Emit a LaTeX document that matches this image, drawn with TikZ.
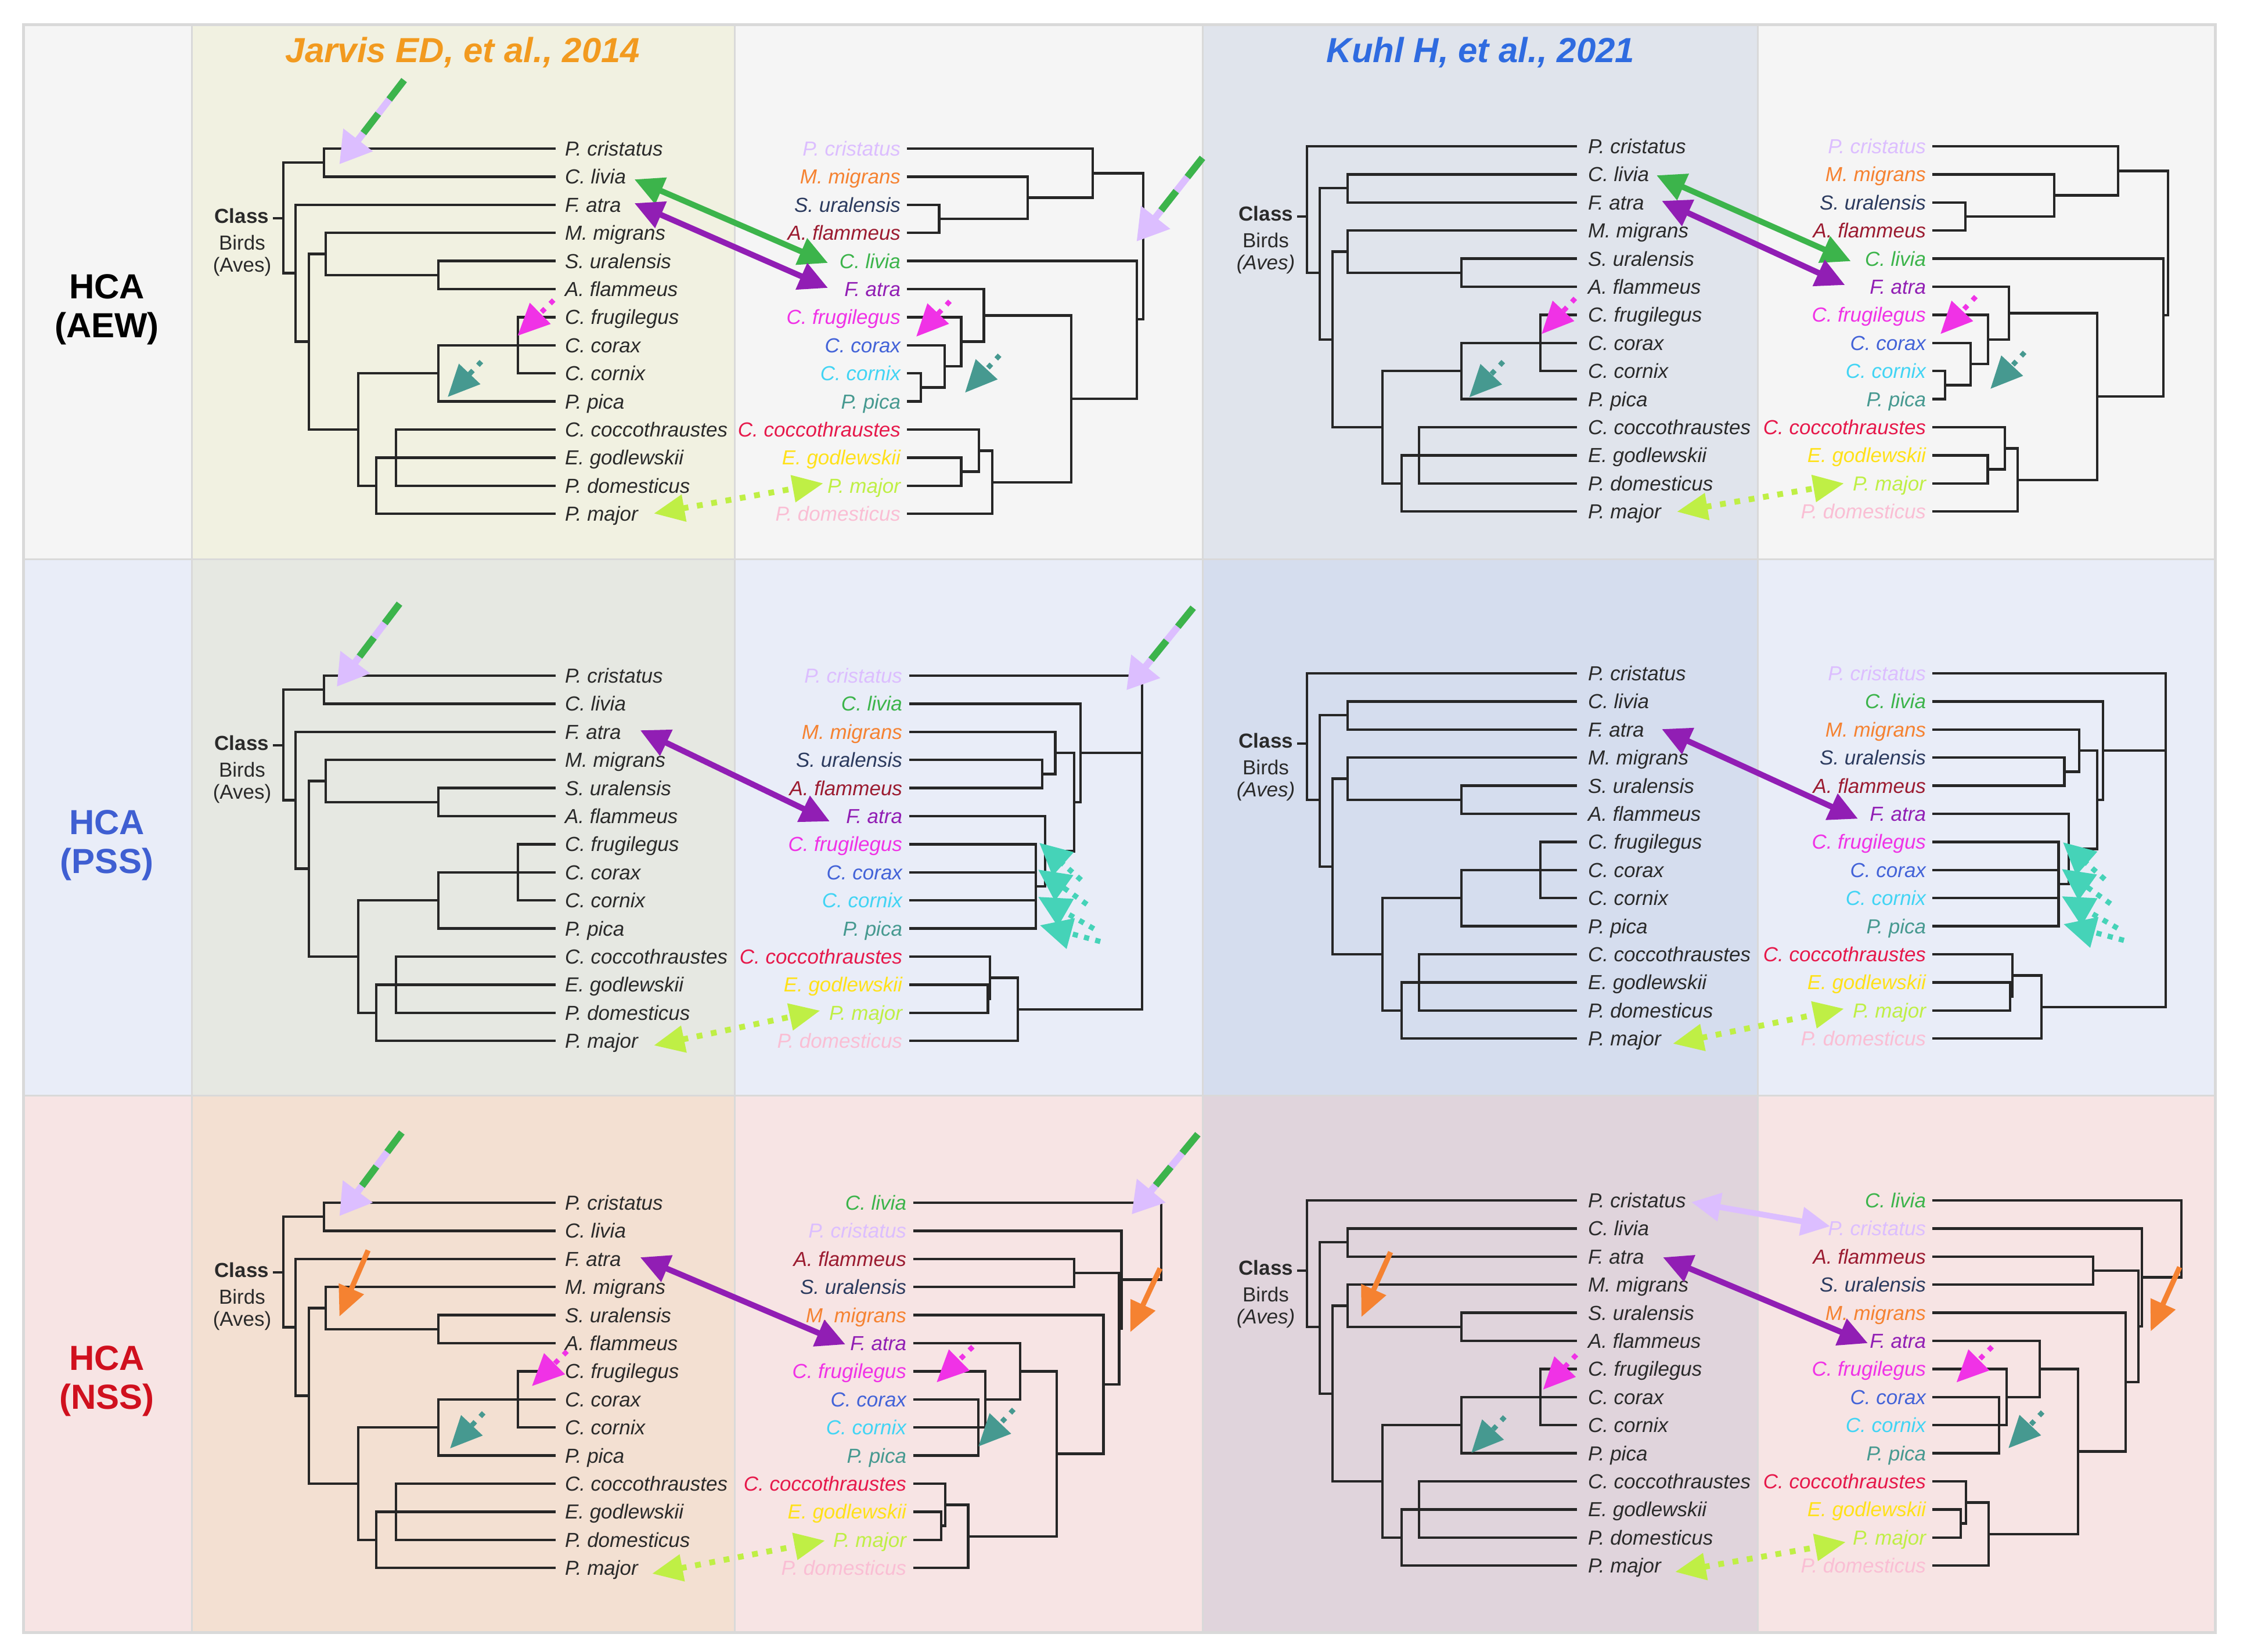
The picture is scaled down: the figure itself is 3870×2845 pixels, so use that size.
\documentclass[tikz,border=0pt]{standalone}
\usepackage{fontspec}
\setmainfont{Liberation Sans}
\usetikzlibrary{arrows.meta}
\definecolor{cLav}{HTML}{DCBEFF}
\definecolor{cGreen}{HTML}{3CB44B}
\definecolor{cOrange}{HTML}{F58231}
\definecolor{cNavy}{HTML}{2B3A5E}
\definecolor{cMaroon}{HTML}{9B1B30}
\definecolor{cPurple}{HTML}{911EB4}
\definecolor{cMag}{HTML}{F032E6}
\definecolor{cBlue}{HTML}{4363D8}
\definecolor{cCyan}{HTML}{42D4F4}
\definecolor{cTeal}{HTML}{469990}
\definecolor{cRed}{HTML}{E6194B}
\definecolor{cYellow}{HTML}{FFE119}
\definecolor{cLime}{HTML}{BFEF45}
\definecolor{cPink}{HTML}{FABED4}
\definecolor{cTurq}{HTML}{45D3B8}
\definecolor{ink}{HTML}{2A2A2A}
\definecolor{treeC}{HTML}{262626}
\definecolor{titJ}{HTML}{F29A1F}
\definecolor{titK}{HTML}{2F6BE0}
\definecolor{hcaB}{HTML}{3F5FD2}
\definecolor{hcaR}{HTML}{D0101E}
\definecolor{bgA}{HTML}{F5F5F5}
\definecolor{bgB}{HTML}{E9EDF8}
\definecolor{bgC}{HTML}{F7E4E4}
\definecolor{jA}{HTML}{F1F1E1}
\definecolor{jB}{HTML}{E6E8E2}
\definecolor{jC}{HTML}{F3E0D2}
\definecolor{kA}{HTML}{E0E4EC}
\definecolor{kB}{HTML}{D5DDEE}
\definecolor{kC}{HTML}{E0D4DC}
\definecolor{gridC}{HTML}{D9D9D9}

\tikzset{
 tree/.style={draw=treeC, line width=0.9pt},
 sp/.style={font=\fontsize{7}{8}\selectfont\itshape, inner sep=0pt},
 cls/.style={font=\fontsize{7}{8}\selectfont, inner sep=0pt, text=ink},
 ttl/.style={font=\fontsize{12}{14}\selectfont\bfseries\itshape, inner sep=0pt, anchor=base},
 hca/.style={font=\fontsize{12}{14}\selectfont\bfseries, inner sep=0pt, anchor=base},
 gridline/.style={draw=gridC, line width=0.6pt},
 dbl/.style={line width=2pt, {Triangle[length=10pt,width=9.5pt]}-{Triangle[length=10pt,width=9.5pt]}},
 dotarr/.style={line width=1.7pt, dash pattern=on 1.7pt off 2.5pt, -{Triangle[length=11pt,width=9.8pt]}},
 limearr/.style={color=cLime, line width=2pt, dash pattern=on 2pt off 3pt, {Triangle[length=10.6pt,width=9pt]}-{Triangle[length=10.6pt,width=9pt]}},
 orarr/.style={color=cOrange, line width=1.8pt, -{Triangle[length=10.4pt,width=9pt]}},
 tqarr/.style={color=cTurq, line width=1.8pt, dash pattern=on 1.8pt off 2.2pt, -{Triangle[length=11pt,width=10.5pt]}},
}

\newcommand\dgarrow[2]{%
 \draw[color=cLav, line width=2.4pt, -{Triangle[length=10.6pt,width=12.2pt]}] (#1) -- (#2);
 \draw[draw=cGreen, line width=2.4pt, dash pattern=on 8.4pt off 6.2pt, shorten >=13pt] (#1) -- (#2);}

\newcommand\RL[5]{\node[sp,anchor=base east,text=#5] (#1) at (#2,#3+12.5) {#4};}
\newcommand\LL[4]{\node[sp,anchor=base west,text=ink] (#1) at (#2,#3+12.5) {#4};}

\newcommand\LeftLabels[2]{%
 \LL{#1l0}{#2}{0}{P. cristatus}
 \LL{#1l1}{#2}{48.4}{C. livia}
 \LL{#1l2}{#2}{96.8}{F. atra}
 \LL{#1l3}{#2}{145.2}{M. migrans}
 \LL{#1l4}{#2}{193.6}{S. uralensis}
 \LL{#1l5}{#2}{242}{A. flammeus}
 \LL{#1l6}{#2}{290.4}{C. frugilegus}
 \LL{#1l7}{#2}{338.8}{C. corax}
 \LL{#1l8}{#2}{387.2}{C. cornix}
 \LL{#1l9}{#2}{435.6}{P. pica}
 \LL{#1l10}{#2}{484}{C. coccothraustes}
 \LL{#1l11}{#2}{532.4}{E. godlewskii}
 \LL{#1l12}{#2}{580.8}{P. domesticus}
 \LL{#1l13}{#2}{629.2}{P. major}}

\newcommand\RightLabelsA[2]{%
 \RL{#1r0}{#2}{0}{P. cristatus}{cLav}
 \RL{#1r1}{#2}{48.4}{M. migrans}{cOrange}
 \RL{#1r2}{#2}{96.8}{S. uralensis}{cNavy}
 \RL{#1r3}{#2}{145.2}{A. flammeus}{cMaroon}
 \RL{#1r4}{#2}{193.6}{C. livia}{cGreen}
 \RL{#1r5}{#2}{242}{F. atra}{cPurple}
 \RL{#1r6}{#2}{290.4}{C. frugilegus}{cMag}
 \RL{#1r7}{#2}{338.8}{C. corax}{cBlue}
 \RL{#1r8}{#2}{387.2}{C. cornix}{cCyan}
 \RL{#1r9}{#2}{435.6}{P. pica}{cTeal}
 \RL{#1r10}{#2}{484}{C. coccothraustes}{cRed}
 \RL{#1r11}{#2}{532.4}{E. godlewskii}{cYellow}
 \RL{#1r12}{#2}{580.8}{P. major}{cLime}
 \RL{#1r13}{#2}{629.2}{P. domesticus}{cPink}}

\newcommand\RightLabelsB[2]{%
 \RL{#1r0}{#2}{0}{P. cristatus}{cLav}
 \RL{#1r1}{#2}{48.4}{C. livia}{cGreen}
 \RL{#1r2}{#2}{96.8}{M. migrans}{cOrange}
 \RL{#1r3}{#2}{145.2}{S. uralensis}{cNavy}
 \RL{#1r4}{#2}{193.6}{A. flammeus}{cMaroon}
 \RL{#1r5}{#2}{242}{F. atra}{cPurple}
 \RL{#1r6}{#2}{290.4}{C. frugilegus}{cMag}
 \RL{#1r7}{#2}{338.8}{C. corax}{cBlue}
 \RL{#1r8}{#2}{387.2}{C. cornix}{cCyan}
 \RL{#1r9}{#2}{435.6}{P. pica}{cTeal}
 \RL{#1r10}{#2}{484}{C. coccothraustes}{cRed}
 \RL{#1r11}{#2}{532.4}{E. godlewskii}{cYellow}
 \RL{#1r12}{#2}{580.8}{P. major}{cLime}
 \RL{#1r13}{#2}{629.2}{P. domesticus}{cPink}}

\newcommand\RightLabelsC[2]{%
 \RL{#1r0}{#2}{0}{C. livia}{cGreen}
 \RL{#1r1}{#2}{48.4}{P. cristatus}{cLav}
 \RL{#1r2}{#2}{96.8}{A. flammeus}{cMaroon}
 \RL{#1r3}{#2}{145.2}{S. uralensis}{cNavy}
 \RL{#1r4}{#2}{193.6}{M. migrans}{cOrange}
 \RL{#1r5}{#2}{242}{F. atra}{cPurple}
 \RL{#1r6}{#2}{290.4}{C. frugilegus}{cMag}
 \RL{#1r7}{#2}{338.8}{C. corax}{cBlue}
 \RL{#1r8}{#2}{387.2}{C. cornix}{cCyan}
 \RL{#1r9}{#2}{435.6}{P. pica}{cTeal}
 \RL{#1r10}{#2}{484}{C. coccothraustes}{cRed}
 \RL{#1r11}{#2}{532.4}{E. godlewskii}{cYellow}
 \RL{#1r12}{#2}{580.8}{P. major}{cLime}
 \RL{#1r13}{#2}{629.2}{P. domesticus}{cPink}}

\newcommand\JarvisTree[1]{%
 \draw[tree] (957,0) -- (558,0) -- (558,48.4) -- (957,48.4);
 \draw[tree] (558,24.2) -- (488,24.2) -- (488,214.6) -- (509,214.6);
 \draw[tree] (470,120) -- (488,120);
 \draw[tree] (957,96.8) -- (509,96.8) -- (509,332.5) -- (532,332.5);
 \draw[tree] (561,181.5) -- (532,181.5) -- (532,484) -- (617,484);
 \draw[tree] (957,145.2) -- (561,145.2) -- (561,217.8) -- (755,217.8);
 \draw[tree] (957,193.6) -- (755,193.6) -- (755,242) -- (957,242);
 \draw[tree] (755,387.2) -- (617,387.2) -- (617,580.8) -- (648,580.8);
 \draw[tree] (957,338.8) -- (755,338.8) -- (755,435.6) -- (957,435.6);
 \draw[tree] (957,290.4) -- (892,290.4) -- (892,387.2) -- (957,387.2);
 \draw[tree] (957,532.4) -- (648,532.4) -- (648,629.2) -- (957,629.2);
 \draw[tree] (957,484) -- (682,484) -- (682,580.8) -- (957,580.8);
 \node[cls,anchor=base east,font=\fontsize{7}{8}\selectfont\bfseries] (#1cls) at (464,128.5) {Class};
 \node[cls,anchor=base] (#1bir) at (417,174.5) {Birds};
 \node[cls,anchor=base] (#1ave) at (417,212.5) {(Aves)};
 \LeftLabels{#1}{972}}

\newcommand\KuhlTree[1]{%
 \draw[tree] (2716,0) -- (2251,0) -- (2251,218) -- (2273,218);
 \draw[tree] (2234,121) -- (2251,121);
 \draw[tree] (2321,72.2) -- (2273,72.2) -- (2273,332.75) -- (2295,332.75);
 \draw[tree] (2716,48.4) -- (2321,48.4) -- (2321,96.8) -- (2716,96.8);
 \draw[tree] (2321,181.5) -- (2295,181.5) -- (2295,484) -- (2381,484);
 \draw[tree] (2716,145.2) -- (2321,145.2) -- (2321,217.8) -- (2517,217.8);
 \draw[tree] (2716,193.6) -- (2517,193.6) -- (2517,242) -- (2716,242);
 \draw[tree] (2517,387.2) -- (2381,387.2) -- (2381,580.8) -- (2414,580.8);
 \draw[tree] (2716,338.8) -- (2517,338.8) -- (2517,435.6) -- (2716,435.6);
 \draw[tree] (2716,290.4) -- (2653,290.4) -- (2653,387.2) -- (2716,387.2);
 \draw[tree] (2716,532.4) -- (2414,532.4) -- (2414,629.2) -- (2716,629.2);
 \draw[tree] (2716,484) -- (2444,484) -- (2444,580.8) -- (2716,580.8);
 \node[cls,anchor=base east,font=\fontsize{7}{8}\selectfont\bfseries] (#1cls) at (2228,128.5) {Class};
 \node[cls,anchor=base] (#1bir) at (2180,174.5) {Birds};
 \node[cls,anchor=base,font=\fontsize{7}{8}\selectfont\itshape] (#1ave) at (2180,212.5) {(Aves)};
 \LeftLabels{#1}{2734}}

\begin{document}
\begin{tikzpicture}[x=0.2pt,y=-0.2pt]
\useasboundingbox (0,0) rectangle (3870,2845);
\fill[white] (0,0) rectangle (3870,2845);
% backgrounds
\fill[bgA] (40,42) rectangle (3815,963);
\fill[bgB] (40,963) rectangle (3815,1887);
\fill[bgC] (40,1887) rectangle (3815,2812);
\fill[jA] (330,42) rectangle (1265,963);
\fill[jB] (330,963) rectangle (1265,1887);
\fill[jC] (330,1887) rectangle (1265,2812);
\fill[kA] (2071,42) rectangle (3027,963);
\fill[kB] (2071,963) rectangle (3027,1887);
\fill[kC] (2071,1887) rectangle (3027,2812);
\draw[gridline] (40,963) -- (3815,963);
\draw[gridline] (40,1887) -- (3815,1887);
\foreach \xx in {330,1265,2071,3027} {\draw[gridline] (\xx,42) -- (\xx,2812);}
\draw[draw=gridC, line width=1pt] (40,42) rectangle (3815,2812);

% titles
\node[ttl,text=titJ] (titleJ) at (797,107.5) {Jarvis ED, et al., 2014};
\node[ttl,text=titK] (titleK) at (2550,107.5) {Kuhl H, et al., 2021};
\node[hca,text=black] (h1a) at (184,514) {HCA};
\node[hca,text=black] (h1b) at (184,581) {(AEW)};
\node[hca,text=hcaB] (h2a) at (184,1437) {HCA};
\node[hca,text=hcaB] (h2b) at (184,1504) {(PSS)};
\node[hca,text=hcaR] (h3a) at (184,2360) {HCA};
\node[hca,text=hcaR] (h3b) at (184,2427) {(NSS)};

% left trees
\begin{scope}[shift={(0,256)}]\JarvisTree{ja}\end{scope}
\begin{scope}[shift={(0,1164)}]\JarvisTree{jb}\end{scope}
\begin{scope}[shift={(0,2072)}]\JarvisTree{jc}\end{scope}
\begin{scope}[shift={(0,252)}]\KuhlTree{ka}\end{scope}
\begin{scope}[shift={(0,1160)}]\KuhlTree{kb}\end{scope}
\begin{scope}[shift={(0,2068)}]\KuhlTree{kc}\end{scope}

% ===== Row 1 right trees =====
\begin{scope}[shift={(0,256)}]
 \draw[tree] (1562,0) -- (1882,0) -- (1882,84.7) -- (1770,84.7);
 \draw[tree] (1562,48.4) -- (1770,48.4) -- (1770,121) -- (1617.5,121);
 \draw[tree] (1562,96.8) -- (1617.5,96.8) -- (1617.5,145.2) -- (1562,145.2);
 \draw[tree] (1882,42.35) -- (1969,42.35) -- (1969,294) -- (1958,294);
 \draw[tree] (1562,193.6) -- (1958,193.6) -- (1958,431) -- (1845,431);
 \draw[tree] (1694.5,287.25) -- (1845,287.25) -- (1845,574.75) -- (1709,574.75);
 \draw[tree] (1562,242) -- (1694.5,242) -- (1694.5,332.5) -- (1655.5,332.5);
 \draw[tree] (1562,290.4) -- (1655.5,290.4) -- (1655.5,375.1) -- (1627,375.1);
 \draw[tree] (1562,338.8) -- (1627,338.8) -- (1627,411.4) -- (1586,411.4);
 \draw[tree] (1562,387.2) -- (1586,387.2) -- (1586,435.6) -- (1562,435.6);
 \draw[tree] (1562,484) -- (1686,484) -- (1686,556.6) -- (1655.5,556.6);
 \draw[tree] (1562,532.4) -- (1655.5,532.4) -- (1655.5,580.8) -- (1562,580.8);
 \draw[tree] (1686,520.3) -- (1709,520.3) -- (1709,629.2) -- (1562,629.2);
 \RightLabelsA{jra}{1552}
\end{scope}
\begin{scope}[shift={(0,252)}]
 \draw[tree] (3328,0) -- (3648,0) -- (3648,84.7) -- (3538,84.7);
 \draw[tree] (3328,48.4) -- (3538,48.4) -- (3538,121) -- (3385,121);
 \draw[tree] (3328,96.8) -- (3385,96.8) -- (3385,145.2) -- (3328,145.2);
 \draw[tree] (3648,42.35) -- (3734,42.35) -- (3734,291) -- (3726,291);
 \draw[tree] (3328,193.6) -- (3726,193.6) -- (3726,431) -- (3612,431);
 \draw[tree] (3460,287.4) -- (3612,287.4) -- (3612,574.75) -- (3475,574.75);
 \draw[tree] (3328,242) -- (3460,242) -- (3460,332.75) -- (3424,332.75);
 \draw[tree] (3328,290.4) -- (3424,290.4) -- (3424,375.1) -- (3394,375.1);
 \draw[tree] (3328,338.8) -- (3394,338.8) -- (3394,411.4) -- (3350,411.4);
 \draw[tree] (3328,387.2) -- (3350,387.2) -- (3350,435.6) -- (3328,435.6);
 \draw[tree] (3328,484) -- (3453,484) -- (3453,556.6) -- (3423.5,556.6);
 \draw[tree] (3328,532.4) -- (3423.5,532.4) -- (3423.5,580.8) -- (3328,580.8);
 \draw[tree] (3453,520.3) -- (3475,520.3) -- (3475,629.2) -- (3328,629.2);
 \RightLabelsA{kra}{3318}
\end{scope}

% ===== Row 2 right trees =====
\begin{scope}[shift={(0,1164)}]
 \draw[tree] (1565.5,0) -- (1967,0) -- (1967,574.75) -- (1753,574.75);
 \draw[tree] (1565.5,48.4) -- (1861,48.4) -- (1861,217.8) -- (1850,217.8);
 \draw[tree] (1861,133.1) -- (1967,133.1);
 \draw[tree] (1565.5,96.8) -- (1817.6,96.8) -- (1817.6,169.4) -- (1795,169.4);
 \draw[tree] (1565.5,145.2) -- (1795,145.2) -- (1795,193.6) -- (1565.5,193.6);
 \draw[tree] (1817.6,133.1) -- (1850,133.1) -- (1850,302.5) -- (1800,302.5);
 \draw[tree] (1565.5,242) -- (1800,242) -- (1800,363) -- (1784,363);
 \draw[tree] (1565.5,290.4) -- (1784,290.4) -- (1784,435.6) -- (1565.5,435.6);
 \draw[tree] (1565.5,338.8) -- (1784,338.8);
 \draw[tree] (1565.5,387.2) -- (1784,387.2);
 \draw[tree] (1565.5,484) -- (1705,484) -- (1705,556.6) -- (1701.6,556.6);
 \draw[tree] (1565.5,532.4) -- (1701.6,532.4) -- (1701.6,580.8) -- (1565.5,580.8);
 \draw[tree] (1705,520.3) -- (1753,520.3) -- (1753,629.2) -- (1565.5,629.2);
 \RightLabelsB{jrb}{1555}
\end{scope}
\begin{scope}[shift={(0,1160)}]
 \draw[tree] (3328,0) -- (3730,0) -- (3730,574.75) -- (3516,574.75);
 \draw[tree] (3328,48.4) -- (3622,48.4) -- (3622,217.8) -- (3612,217.8);
 \draw[tree] (3622,133.1) -- (3730,133.1);
 \draw[tree] (3328,96.8) -- (3581,96.8) -- (3581,169.4) -- (3555.5,169.4);
 \draw[tree] (3328,145.2) -- (3555.5,145.2) -- (3555.5,193.6) -- (3328,193.6);
 \draw[tree] (3581,133.1) -- (3612,133.1) -- (3612,302.5) -- (3563,302.5);
 \draw[tree] (3328,242) -- (3563,242) -- (3563,363) -- (3545.5,363);
 \draw[tree] (3328,290.4) -- (3545.5,290.4) -- (3545.5,435.6) -- (3328,435.6);
 \draw[tree] (3328,338.8) -- (3545.5,338.8);
 \draw[tree] (3328,387.2) -- (3545.5,387.2);
 \draw[tree] (3328,484) -- (3466,484) -- (3466,556.6) -- (3462,556.6);
 \draw[tree] (3328,532.4) -- (3462,532.4) -- (3462,580.8) -- (3328,580.8);
 \draw[tree] (3466,520.3) -- (3516,520.3) -- (3516,629.2) -- (3328,629.2);
 \RightLabelsB{krb}{3318}
\end{scope}

% ===== Row 3 right trees =====
\begin{scope}[shift={(0,2072)}]
 \draw[tree] (1572.5,0) -- (2000,0) -- (2000,132.7) -- (1931.5,132.7);
 \draw[tree] (1572.5,48.4) -- (1931.5,48.4) -- (1931.5,217) -- (1927.6,217);
 \draw[tree] (1572.5,96.8) -- (1850,96.8) -- (1850,145.2) -- (1572.5,145.2);
 \draw[tree] (1850,121) -- (1927.6,121) -- (1927.6,313) -- (1900.5,313);
 \draw[tree] (1572.5,193.6) -- (1900.5,193.6) -- (1900.5,432.6) -- (1820,432.6);
 \draw[tree] (1757,290.4) -- (1820,290.4) -- (1820,574.75) -- (1667.5,574.75);
 \draw[tree] (1572.5,242) -- (1757,242) -- (1757,338.8) -- (1697,338.8);
 \draw[tree] (1572.5,290.4) -- (1697,290.4) -- (1697,387.2) -- (1572.5,387.2);
 \draw[tree] (1572.5,338.8) -- (1685,338.8) -- (1685,435.6) -- (1572.5,435.6);
 \draw[tree] (1572.5,484) -- (1628,484) -- (1628,556.6) -- (1621,556.6);
 \draw[tree] (1572.5,532.4) -- (1621,532.4) -- (1621,580.8) -- (1572.5,580.8);
 \draw[tree] (1628,520.3) -- (1667.5,520.3) -- (1667.5,629.2) -- (1572.5,629.2);
 \RightLabelsC{jrc}{1562}
\end{scope}
\begin{scope}[shift={(0,2068)}]
 \draw[tree] (3328,0) -- (3757,0) -- (3757,132.7) -- (3689,132.7);
 \draw[tree] (3328,48.4) -- (3689,48.4) -- (3689,217) -- (3683,217);
 \draw[tree] (3328,96.8) -- (3605,96.8) -- (3605,145.2) -- (3328,145.2);
 \draw[tree] (3605,121) -- (3683,121) -- (3683,313) -- (3661,313);
 \draw[tree] (3328,193.6) -- (3661,193.6) -- (3661,432.6) -- (3579,432.6);
 \draw[tree] (3513,290.4) -- (3579,290.4) -- (3579,574.75) -- (3425,574.75);
 \draw[tree] (3328,242) -- (3513,242) -- (3513,338.8) -- (3456,338.8);
 \draw[tree] (3328,290.4) -- (3456,290.4) -- (3456,387.2) -- (3328,387.2);
 \draw[tree] (3328,338.8) -- (3443,338.8) -- (3443,435.6) -- (3328,435.6);
 \draw[tree] (3328,484) -- (3386,484) -- (3386,556.6) -- (3377,556.6);
 \draw[tree] (3328,532.4) -- (3377,532.4) -- (3377,580.8) -- (3328,580.8);
 \draw[tree] (3386,520.3) -- (3425,520.3) -- (3425,629.2) -- (3328,629.2);
 \RightLabelsC{krc}{3318}
\end{scope}

% ===== Arrows, row 1 =====
\coordinate (a1t) at (696,138);   \coordinate (a1h) at (584.5,283);
\coordinate (a2t) at (2071,272);  \coordinate (a2h) at (1957.5,416);
\dgarrow{a1t}{a1h}
\dgarrow{a2t}{a2h}
\coordinate (g1a) at (1092.6,309); \coordinate (g1b) at (1426,453);
\coordinate (p1a) at (1092.6,350); \coordinate (p1b) at (1426,496);
\draw[dbl,color=cGreen] (g1a) -- (g1b);
\draw[dbl,color=cPurple] (p1a) -- (p1b);
\coordinate (g2a) at (2853,302); \coordinate (g2b) at (3187.6,450);
\coordinate (p2a) at (2862,346); \coordinate (p2b) at (3177.6,491);
\draw[dbl,color=cGreen] (g2a) -- (g2b);
\draw[dbl,color=cPurple] (p2a) -- (p2b);
\coordinate (m1t) at (953.6,517); \coordinate (m1h) at (891.4,578.5);
\coordinate (t1t) at (829,623); \coordinate (t1h) at (771,684);
\coordinate (m2t) at (1636,519); \coordinate (m2h) at (1578,580);
\coordinate (t2t) at (1721.6,612); \coordinate (t2h) at (1662,676.5);
\coordinate (m3t) at (2713,514); \coordinate (m3h) at (2655,575.5);
\coordinate (t3t) at (2589,623); \coordinate (t3h) at (2530.5,684.5);
\coordinate (m4t) at (3403,511); \coordinate (m4h) at (3342,575.5);
\coordinate (t4t) at (3487,607); \coordinate (t4h) at (3428,670);
\foreach \a in {m1,m2,m3,m4} {\draw[dotarr,color=cMag] (\a t) -- (\a h);}
\foreach \a in {t1,t2,t3,t4} {\draw[dotarr,color=cTeal] (\a t) -- (\a h);}
\coordinate (l1a) at (1126,884.6); \coordinate (l1b) at (1418,832.6);
\coordinate (l2a) at (2888,881.6); \coordinate (l2b) at (3176,832.6);
\draw[limearr] (l1a) -- (l1b);
\draw[limearr] (l2a) -- (l2b);

% ===== Arrows, row 2 =====
\coordinate (b1t) at (688,1040); \coordinate (b1h) at (580,1183);
\coordinate (b2t) at (2055,1047); \coordinate (b2h) at (1940,1189);
\dgarrow{b1t}{b1h}
\dgarrow{b2t}{b2h}
\coordinate (p3a) at (1102.6,1258); \coordinate (p3b) at (1429,1415);
\coordinate (p4a) at (2862,1256); \coordinate (p4b) at (3200,1410.5);
\draw[dbl,color=cPurple] (p3a) -- (p3b);
\draw[dbl,color=cPurple] (p4a) -- (p4b);
\coordinate (l3a) at (1126,1801); \coordinate (l3b) at (1412.6,1741);
\coordinate (l4a) at (2881,1798); \coordinate (l4b) at (3176,1737.7);
\draw[limearr] (l3a) -- (l3b);
\draw[limearr] (l4a) -- (l4b);
\coordinate (qa1t) at (1862,1516); \coordinate (qa1h) at (1790,1452);
\coordinate (qa2t) at (1872,1558); \coordinate (qa2h) at (1788,1498);
\coordinate (qa3t) at (1884,1600); \coordinate (qa3h) at (1788,1545);
\coordinate (qa4t) at (1895,1622); \coordinate (qa4h) at (1791,1594);
\coordinate (qb1t) at (3625,1515); \coordinate (qb1h) at (3553,1451);
\coordinate (qb2t) at (3635,1557); \coordinate (qb2h) at (3551,1497);
\coordinate (qb3t) at (3647,1599); \coordinate (qb3h) at (3551,1544);
\coordinate (qb4t) at (3658,1620); \coordinate (qb4h) at (3554,1592);
\foreach \a in {qa1,qa2,qa3,qa4,qb1,qb2,qb3,qb4} {\draw[tqarr] (\a t) -- (\a h);}

% ===== Arrows, row 3 =====
\coordinate (c1t) at (692,1951); \coordinate (c1h) at (584.5,2095);
\coordinate (c2t) at (2063,1954); \coordinate (c2h) at (1949,2092);
\dgarrow{c1t}{c1h}
\dgarrow{c2t}{c2h}
\coordinate (o1t) at (634,2154); \coordinate (o1h) at (584.5,2268);
\coordinate (o2t) at (1998,2185); \coordinate (o2h) at (1946.6,2295);
\coordinate (o3t) at (2395,2157); \coordinate (o3h) at (2344.6,2269);
\coordinate (o4t) at (3754,2183); \coordinate (o4h) at (3704,2293.6);
\foreach \a in {o1,o2,o3,o4} {\draw[orarr] (\a t) -- (\a h);}
\coordinate (v1a) at (2913,2071); \coordinate (v1b) at (3152,2112.6);
\draw[dbl,color=cLav] (v1a) -- (v1b);
\coordinate (p5a) at (1102.6,2166); \coordinate (p5b) at (1456,2316);
\coordinate (p6a) at (2864,2166); \coordinate (p6b) at (3217,2314);
\draw[dbl,color=cPurple] (p5a) -- (p5b);
\draw[dbl,color=cPurple] (p6a) -- (p6b);
\coordinate (m5t) at (976.6,2328); \coordinate (m5h) at (916,2388);
\coordinate (t5t) at (833,2434); \coordinate (t5h) at (775,2495.4);
\coordinate (m6t) at (1675.5,2320); \coordinate (m6h) at (1613,2381.5);
\coordinate (t6t) at (1746,2428); \coordinate (t6h) at (1685,2492);
\coordinate (m7t) at (2715,2334); \coordinate (m7h) at (2657.5,2394);
\coordinate (t7t) at (2591.6,2441); \coordinate (t7h) at (2534,2503);
\coordinate (m8t) at (3431,2320); \coordinate (m8h) at (3369.5,2381.6);
\coordinate (t8t) at (3518,2432.6); \coordinate (t8h) at (3459,2495);
\foreach \a in {m5,m6,m7,m8} {\draw[dotarr,color=cMag] (\a t) -- (\a h);}
\foreach \a in {t5,t6,t7,t8} {\draw[dotarr,color=cTeal] (\a t) -- (\a h);}
\coordinate (l5a) at (1123,2711); \coordinate (l5b) at (1421,2654);
\coordinate (l6a) at (2885,2708); \coordinate (l6b) at (3179,2656.6);
\draw[limearr] (l5a) -- (l5b);
\draw[limearr] (l6a) -- (l6b);
\end{tikzpicture}
\end{document}
